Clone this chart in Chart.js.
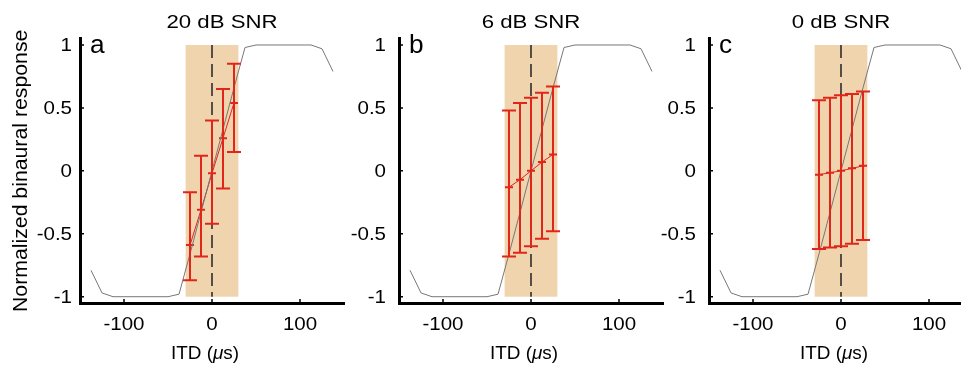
<!DOCTYPE html>
<html lang="en">
<head>
<meta charset="UTF-8" />
<title>Normalized binaural response vs ITD</title>
<script src="https://cdn.jsdelivr.net/npm/chart.js"></script>
<style>
  html, body { margin: 0; padding: 0; background: #fff; overflow: hidden; width: 961px; height: 365px; }
  canvas { position: absolute; top: 0; }
</style>
</head>
<body>
<canvas id="panelA" width="350" height="365" style="left:0px"></canvas>
<canvas id="panelB" width="340" height="365" style="left:330px"></canvas>
<canvas id="panelC" width="340" height="365" style="left:640px"></canvas>
<script>
// grey model curve (ITD in microseconds)
const curveItd  = [-137.5, -125, -112.5, -50, -37.5, -25, -12.5, 0, 12.5, 25, 37.5, 50, 112.5, 125, 137.5];
const curveResp = [-0.79, -0.97, -1, -1, -0.98, -0.66, -0.33, 0, 0.33, 0.66, 0.98, 1, 1, 0.97, 0.79];

// measured points, one set per SNR
const itd = [-25, -12.5, 0, 12.5, 25];
const mean20  = [-0.59, -0.31, -0.02, 0.26, 0.54];
const upper20 = [-0.17, 0.12, 0.40, 0.65, 0.85];
const lower20 = [-0.87, -0.68, -0.42, -0.14, 0.15];
const mean6   = [-0.13, -0.07, 0.00, 0.07, 0.13];
const upper6  = [0.48, 0.54, 0.58, 0.62, 0.67];
const lower6  = [-0.68, -0.65, -0.60, -0.54, -0.48];
const mean0   = [-0.03, -0.015, 0.00, 0.02, 0.04];
const upper0  = [0.56, 0.58, 0.60, 0.61, 0.63];
const lower0  = [-0.62, -0.61, -0.60, -0.58, -0.55];

const band = [-30, 30];
const xTicks = [-100, 0, 100];
const yTicks = [-1, -0.5, 0, 0.5, 1];
const titles = ['20 dB SNR', '6 dB SNR', '0 dB SNR'];
const letters = ['a', 'b', 'c'];

const red = '#E1251B';
const FAM = '"Liberation Sans", Arial, sans-serif';

function drawText(ctx, text, x, y, size, sx, align, style) {
  ctx.save();
  ctx.font = (style || '') + ' ' + size + 'px ' + FAM;
  ctx.fillStyle = '#000';
  ctx.textAlign = align;
  ctx.textBaseline = 'alphabetic';
  ctx.translate(x, y);
  ctx.scale(sx, 1);
  ctx.fillText(text, 0, 0);
  ctx.restore();
}

const decor = {
  id: 'decor',
  beforeDatasetsDraw(chart, args, o) {
    const { ctx, scales: { x, y } } = chart;
    ctx.save();
    const x0 = x.getPixelForValue(band[0]), x1 = x.getPixelForValue(band[1]);
    const yt = y.getPixelForValue(1), yb = y.getPixelForValue(-1);
    ctx.fillStyle = '#F0D4AE';
    ctx.fillRect(x0, yt, x1 - x0, yb - yt);
    // dashed line at ITD = 0
    ctx.strokeStyle = '#222';
    ctx.lineWidth = 1.5;
    ctx.setLineDash([13, 6]);
    ctx.beginPath();
    ctx.moveTo(x.getPixelForValue(0), yt);
    ctx.lineTo(x.getPixelForValue(0), yb);
    ctx.stroke();
    ctx.restore();
  },
  afterDatasetsDraw(chart, args, o) {
    const { ctx, scales: { x, y } } = chart;
    ctx.save();
    ctx.strokeStyle = red;
    ctx.lineWidth = 2;
    itd.forEach((v, i) => {
      const px = x.getPixelForValue(v);
      const pu = y.getPixelForValue(o.upper[i]), pl = y.getPixelForValue(o.lower[i]);
      ctx.beginPath();
      ctx.moveTo(px, pu); ctx.lineTo(px, pl);
      ctx.moveTo(px - 7, pu); ctx.lineTo(px + 7, pu);
      ctx.moveTo(px - 7, pl); ctx.lineTo(px + 7, pl);
      ctx.stroke();
    });
    ctx.restore();
  },
  afterDraw(chart, args, o) {
    const { ctx, chartArea: ca, scales: { x, y } } = chart;
    ctx.save();
    // inward tick marks
    ctx.strokeStyle = '#000';
    ctx.lineWidth = 1.5;
    ctx.beginPath();
    y.ticks.forEach(t => {
      const py = y.getPixelForValue(t.value);
      ctx.moveTo(ca.left, py); ctx.lineTo(ca.left + 4, py);
    });
    x.ticks.forEach(t => {
      const px = x.getPixelForValue(t.value);
      ctx.moveTo(px, ca.bottom); ctx.lineTo(px, ca.bottom - 4);
    });
    ctx.stroke();
    ctx.restore();

    // tick labels
    y.ticks.forEach(t => {
      drawText(ctx, String(t.value), ca.left - o.yPad, y.getPixelForValue(t.value) + 6.3, 18, 1.14, 'right');
    });
    x.ticks.forEach(t => {
      drawText(ctx, String(t.value), x.getPixelForValue(t.value), 330, 18, 1.14, 'center');
    });

    const cx = (ca.left + ca.right) / 2;
    // panel title and letter
    drawText(ctx, o.title, cx + o.titleShift, 28, 18.5, 1.2, 'center');
    drawText(ctx, o.letter, ca.left + 10, 53, 25, 1.05, 'left');

    // x axis title with italic mu
    ctx.save();
    ctx.font = '18px ' + FAM;
    const w1 = ctx.measureText('ITD (').width;
    const w3 = ctx.measureText('s)').width;
    ctx.font = 'italic 18px ' + FAM;
    const w2 = ctx.measureText('\u03bc').width;
    ctx.restore();
    const sx = 1.05;
    let xs = cx - 7 - (w1 + w2 + w3) * sx / 2;
    drawText(ctx, 'ITD (', xs, 359, 18, sx, 'left');
    xs += w1 * sx;
    drawText(ctx, '\u03bc', xs, 359, 18, sx, 'left', 'italic');
    xs += w2 * sx;
    drawText(ctx, 's)', xs, 359, 18, sx, 'left');

    // y axis title only on the first panel
    if (o.yTitle) {
      ctx.save();
      ctx.translate(22, (ca.top + ca.bottom) / 2);
      ctx.rotate(-Math.PI / 2);
      ctx.scale(1.09, 1);
      ctx.font = '19.5px ' + FAM;
      ctx.fillStyle = '#000';
      ctx.textAlign = 'center';
      ctx.textBaseline = 'middle';
      ctx.fillText(o.yTitle, 0, 0);
      ctx.restore();
    }
  }
};

function makePanel(id, idx, mean, upper, lower, axisLeft, padRight, yPad, titleShift, yTitle) {
  return new Chart(document.getElementById(id), {
    type: 'line',
    data: {
      datasets: [
        {
          data: curveItd.map((v, i) => ({ x: v, y: curveResp[i] })),
          borderColor: '#777777',
          borderWidth: 1,
          pointRadius: 0,
          tension: 0
        },
        {
          data: itd.map((v, i) => ({ x: v, y: mean[i] })),
          borderColor: red,
          borderWidth: 1,
          pointStyle: 'line',
          pointRadius: 4,
          pointBorderWidth: 2,
          pointBorderColor: red,
          tension: 0
        }
      ]
    },
    options: {
      responsive: false,
      animation: false,
      events: [],
      layout: { padding: { top: 38.7, right: padRight, left: 0, bottom: 0 } },
      plugins: {
        legend: { display: false },
        tooltip: { enabled: false },
        decor: { title: titles[idx], letter: letters[idx], upper, lower, yPad, titleShift, yTitle }
      },
      scales: {
        x: {
          type: 'linear',
          min: -150, max: 150,
          afterBuildTicks: s => { s.ticks = xTicks.map(v => ({ value: v })); },
          afterFit: s => { s.height = 62; },
          grid: { display: false },
          border: { display: true, width: 3, color: '#000' },
          ticks: { display: false }
        },
        y: {
          type: 'linear',
          min: -1.05, max: 1.05,
          afterBuildTicks: s => { s.ticks = yTicks.map(v => ({ value: v })); },
          afterFit: s => { s.width = axisLeft; },
          grid: { display: false },
          border: { display: true, width: 3, color: '#000' },
          ticks: { display: false }
        }
      }
    },
    plugins: [decor]
  });
}

makePanel('panelA', 0, mean20, upper20, lower20, 80, 6, 8, 10, 'Normalized binaural response');
makePanel('panelB', 1, mean6, upper6, lower6, 69, 7, 13, 0, null);
makePanel('panelC', 2, mean0, upper0, lower0, 69, 7, 13, 0, null);
</script>
</body>
</html>
